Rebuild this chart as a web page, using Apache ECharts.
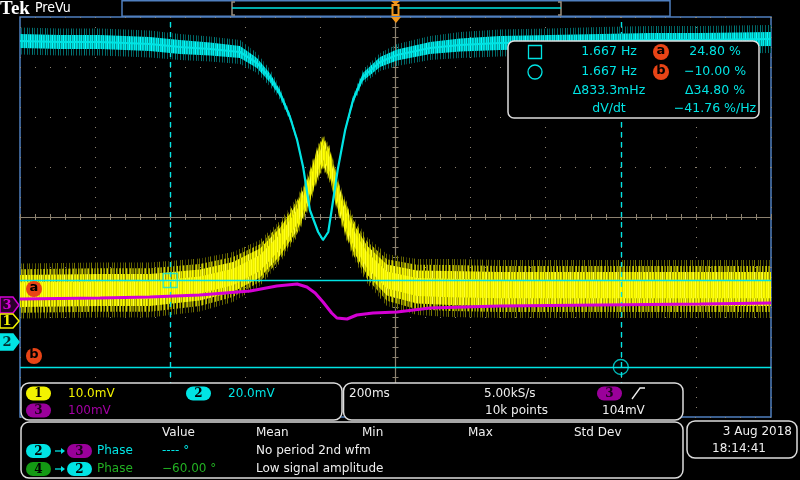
<!DOCTYPE html>
<html><head><meta charset="utf-8">
<script src="https://cdn.jsdelivr.net/npm/echarts/dist/echarts.min.js"></script>
<style>html,body{margin:0;padding:0;background:#000;}#c{width:800px;height:480px;}</style>
</head><body><div id="c"></div>
<script>
// ---- time base: ms (200 ms/div), vertical: divisions ----
// Channel 2 (cyan)
const ch2Time  = [-1000,-893,-787,-654,-574,-494,-414,-369,-334,-308,-281,-262,-246,-228,-206,-193,-179,-170,-154,-134,-113,-87,-41,4,92,172,278,411,545,678,811,1000];
const ch2Level = [3.52,3.50,3.50,3.46,3.40,3.36,3.30,3.08,2.78,2.48,2.00,1.54,1.00,0.14,-0.30,-0.46,-0.30,0.14,0.94,1.74,2.34,2.80,3.10,3.24,3.38,3.44,3.48,3.50,3.52,3.54,3.54,3.56];
const ch2Inner = [0.14,0.14,0.14,0.14,0.14,0.13,0.12,0.10,0.09,0.07,0.05,0.04,0.03,0.02,0.02,0.02,0.02,0.02,0.03,0.04,0.06,0.08,0.10,0.11,0.12,0.13,0.14,0.14,0.14,0.14,0.14,0.14];
const ch2Outer = [0.27,0.27,0.27,0.27,0.26,0.25,0.24,0.20,0.17,0.13,0.08,0.06,0.05,0.03,0.03,0.03,0.03,0.03,0.04,0.06,0.10,0.14,0.18,0.22,0.24,0.26,0.27,0.27,0.28,0.28,0.28,0.28];
// Channel 1 (yellow)
const ch1Time  = [-1000,-787,-654,-521,-433,-361,-308,-262,-236,-209,-193,-174,-156,-140,-113,-76,-23,57,145,278,545,811,1000];
const ch1Level = [-1.48,-1.46,-1.46,-1.36,-1.20,-0.92,-0.50,0.00,0.44,1.04,1.30,1.04,0.48,0.10,-0.40,-0.86,-1.26,-1.40,-1.42,-1.44,-1.44,-1.44,-1.44];
const ch1Inner = [0.32,0.32,0.32,0.31,0.30,0.29,0.28,0.27,0.27,0.27,0.27,0.27,0.27,0.27,0.28,0.29,0.31,0.33,0.34,0.34,0.34,0.34,0.34];
const ch1Outer = [0.55,0.55,0.55,0.53,0.50,0.46,0.42,0.40,0.38,0.37,0.36,0.37,0.38,0.38,0.42,0.46,0.52,0.56,0.58,0.58,0.58,0.58,0.58];
// Channel 3 (magenta)
const ch3Time  = [-1000,-787,-654,-521,-387,-316,-262,-236,-214,-193,-170,-156,-129,-103,-60,4,92,278,545,811,1000];
const ch3Level = [-1.64,-1.62,-1.60,-1.56,-1.48,-1.38,-1.34,-1.40,-1.52,-1.70,-1.92,-2.02,-2.04,-1.96,-1.92,-1.90,-1.82,-1.78,-1.76,-1.74,-1.72];
// Cursors
const cursorTimes  = [-600, 600];
const cursorLevels = [-1.27, -3.0];
// Readouts / labels
const readLeft  = ['1.667 Hz','1.667 Hz','\u0394833.3mHz','dV/dt'];
const readRight = ['24.80 %','\u221210.00 %','\u039434.80 %','\u221241.76 %/Hz'];
const chScales  = ['10.0mV','20.0mV','100mV'];
const horiz     = ['200ms','5.00kS/s','10k points','104mV'];
const measHead  = ['Value','Mean','Min','Max','Std Dev'];
const measRow1  = ['Phase','---- \u00b0','No period 2nd wfm'];
const measRow2  = ['Phase','\u221260.00 \u00b0','Low signal amplitude'];
const dateText  = ['3 Aug 2018','18:14:41'];

const YEL='#f2f200', CYA='#00e4e4', MAG='#d400d4', PUR='#9a009a', ORG='#e84416', GRN='#139a13';
const GRID='#8c8270', FRAME='#4f7fbf', FONT='"DejaVu Sans", sans-serif';

// vertical-streak textures imitating the digital phosphor look (styling only)
function stripes(cols){
  const c = document.createElement('canvas'); c.width = cols.length; c.height = 2;
  const g = c.getContext('2d');
  cols.forEach((col,i)=>{ if(col){ g.fillStyle = col; g.fillRect(i,0,1,2);} });
  return {image:c, repeat:'repeat'};
}
const Y_OUT = stripes(['','#5e5e00','','','#4a4a00','','#767600','','','','#5a5a00','','#6a6a00','','','#3a3a00','']);
const Y_MID = stripes(['#8a8a00','','#b0b000','#6a6a00','','#9a9a00','#c8c800','','#7a7a00','#a0a000','','#8a8a00','#d0d000','#5a5a00','','#9a9a00','#b8b800','','#7a7a00']);
const Y_IN  = stripes(['#f2f200','#c0c000','#f2f200','#ffff33','#9a9a00','#e0e000','#f2f200','#b0b000','#ffff00','#d8d800','#8a8a00','#f2f200','#e8e800','#c8c800','#ffff00','#a8a800','#f0f000','#d0d000','#ffff40','#b8b800','#e8e800','#9a9a00','#f8f800']);
const Y_CORE= stripes(['#ffff00','#f0f000','#ffff30','#e0e000','#ffff00','#f8f800','#d8d800','#ffff00','#f0f000','#ffff20','#e8e800']);
const C_OUT = stripes(['','#006a6a','','#004c4c','','','#007a7a','','#005a5a','','','#006666','']);
const C_IN  = stripes(['#00d0d0','#009a9a','#00e8e8','#00b8b8','#00f0f0','#008a8a','#00dcdc','#00c4c4','#00ffff','#00a8a8','#00e0e0']);

function band(name, t, lvl, half, fill, z){
  const rows = t.map((x,i)=>[x, lvl[i]-half[i], lvl[i]+half[i]]);
  return {type:'custom', name, z, silent:true, animation:false, data:rows,
    encode:{x:0, y:[1,2]},
    renderItem:function(params, api){
      if(params.dataIndex!==0) return null;
      const top = rows.map(r=>api.coord([r[0], r[2]]));
      const bot = rows.map(r=>api.coord([r[0], r[1]])).reverse();
      return {type:'polygon', shape:{points:top.concat(bot)}, style:{fill:fill}};
    }};
}
function pairs(t, v){ return t.map((x,i)=>[x, v[i]]); }
const mix = (a,b,k)=>a.map((v,i)=>v*(1-k)+b[i]*k);

const G = [];
function txt(s, x, y, color, align, font){
  G.push({type:'text', z:100, x, y, silent:true, style:{text:s, fill:color, font:font||('12px '+FONT), align:align||'left', verticalAlign:'middle'}});
}
function rect(x,y,w,h,r,fill,stroke,lw){
  G.push({type:'rect', z:100, silent:true, shape:{x,y,width:w,height:h,r:r||0}, style:{fill:fill||'none', stroke:stroke||null, lineWidth:lw||1}});
}
function badge(x, yc, fill, s, tcol){
  rect(x, yc-7, 25, 14, 7, fill);
  txt(s, x+12.5, yc+0.5, tcol||'#000', 'center', 'bold 12px "DejaVu Serif", serif');
}
function circ(cx, cy, r, fill, stroke){
  G.push({type:'circle', z:100, silent:true, shape:{cx,cy,r}, style:{fill:fill||'none', stroke:stroke||null, lineWidth:1.3}});
}
function poly(pts, fill, stroke, lw, closed){
  G.push({type: closed===false?'polyline':'polygon', z:100, silent:true, shape:{points:pts}, style:{fill:fill||'none', stroke:stroke||null, lineWidth:lw||1}});
}

// top bar
txt('Tek', 0, 9, '#fff', 'left', 'bold 19px "Liberation Serif", serif');
txt('PreVu', 35, 8, '#fff', 'left', '14px "Liberation Sans Narrow", "DejaVu Sans Condensed", sans-serif');
rect(122, 0.75, 548, 15.5, 0, '#000', FRAME, 1.5);
poly([[235,2],[232,2],[232,15],[235,15]], null, '#9a9080', 1.5, false);
poly([[558,2],[561,2],[561,15],[558,15]], null, '#9a9080', 1.5, false);
poly([[232,8],[561,8]], null, CYA, 1.5, false);
poly([[391,1],[400,1],[395.5,5]], '#f0961e');
rect(392.5, 5, 6, 10, 0, '#000', '#f0961e', 2);
poly([[391,17],[401,17],[396,23]], '#f0961e');

// left channel markers
poly([[0,297],[13,297],[19,305],[13,313],[0,313]], '#2a002a', MAG, 1.5);
txt('3', 7, 305.5, MAG, 'center', 'bold 13px "DejaVu Serif", serif');
poly([[0,314],[13,314],[19,321],[13,328],[0,328]], '#000', YEL, 1.5);
txt('1', 7, 321.5, YEL, 'center', 'bold 13px "DejaVu Serif", serif');
poly([[0,334],[13,334],[19,342],[13,350],[0,350]], CYA, CYA, 1.5);
txt('2', 7, 342.5, '#003030', 'center', 'bold 13px "DejaVu Serif", serif');
circ(34, 289, 8, ORG); txt('a', 34, 288, '#000', 'center', 'bold 13px '+FONT);
circ(34, 356, 8, ORG); txt('b', 34, 355, '#000', 'center', 'bold 13px '+FONT);

// cursor readout box
rect(508, 41, 251, 77, 6, '#000', '#ddd', 1.5);
rect(528.5, 45.5, 13, 13, 0, null, CYA, 1.3);
circ(535, 72, 7, null, CYA);
const rowY = [52, 72, 91, 109];
readLeft.forEach((s,i)=>txt(s, 609, rowY[i], CYA, 'center', '12.5px '+FONT));
readRight.forEach((s,i)=>txt(s, 715, rowY[i], CYA, 'center', '12.5px '+FONT));
circ(661, 52, 8, ORG); txt('a', 661, 51, '#000', 'center', 'bold 13px '+FONT);
circ(661, 72, 8, ORG); txt('b', 661, 71, '#000', 'center', 'bold 13px '+FONT);

// channel panel
rect(21, 383, 321, 37, 8, '#000', '#ddd', 1.5);
badge(26, 393.5, YEL, '1'); txt(chScales[0], 68, 393.5, YEL);
badge(186, 393.5, CYA, '2'); txt(chScales[1], 228, 393.5, CYA);
badge(26, 410.5, PUR, '3', '#1a001a'); txt(chScales[2], 68, 410.5, '#a400a4');
// horizontal panel
rect(343.5, 383, 339.5, 37, 8, '#000', '#ddd', 1.5);
txt(horiz[0], 349, 393.5, '#eee');
txt(horiz[1], 484, 393.5, '#eee');
txt(horiz[2], 485, 410.5, '#eee');
badge(597, 393.5, PUR, '3', '#1a001a');
poly([[632,399],[640,388],[645,388]], null, '#eee', 1.3, false);
txt(horiz[3], 602, 410.5, '#eee');
// measurement panel
rect(21, 422, 662, 56, 8, '#000', '#ddd', 1.5);
const headX = [162, 256, 362, 468, 574];
measHead.forEach((s,i)=>txt(s, headX[i], 433, '#eee'));
function arrow(y){ poly([[55,y],[63,y]], null, CYA, 1.3, false); poly([[61,y-3],[65,y],[61,y+3]], CYA); }
badge(26, 451, CYA, '2'); arrow(451); badge(67, 451, PUR, '3', '#1a001a');
txt(measRow1[0], 97, 451, CYA); txt(measRow1[1], 162, 451, CYA); txt(measRow1[2], 256, 451, '#eee');
badge(26, 469, GRN, '4'); arrow(469); badge(67, 469, CYA, '2');
txt(measRow2[0], 97, 469, '#22b022'); txt(measRow2[1], 162, 469, '#22b022'); txt(measRow2[2], 256, 469, '#eee');
// date panel
rect(687, 421, 110, 37, 8, '#000', '#ddd', 1.5);
txt(dateText[0], 792, 431.5, '#eee', 'right');
txt(dateText[1], 712, 448.5, '#eee');

const tickStyle = {color:GRID, width:1};
const chart = echarts.init(document.getElementById('c'), null, {renderer:'canvas'});
chart.setOption({
  backgroundColor:'#000',
  animation:false,
  grid:{left:20, top:17, width:751, height:400, show:true, backgroundColor:'#000', borderColor:FRAME, borderWidth:1.5},
  xAxis:[
    {type:'value', min:-1000, max:1000, interval:200, position:'bottom',
     axisLabel:{show:false},
     axisLine:{show:true, onZero:true, onZeroAxisIndex:0, lineStyle:{color:GRID, width:1.2}},
     axisTick:{show:true, length:3, lineStyle:tickStyle},
     minorTick:{show:true, splitNumber:5, length:3, lineStyle:tickStyle},
     splitLine:{show:true, lineStyle:{color:GRID, type:[1,9], width:1}}},
    {type:'value', min:-1000, max:1000, interval:200, position:'top',
     axisLabel:{show:false},
     axisLine:{show:false, onZero:true, onZeroAxisIndex:0},
     axisTick:{show:true, length:3, lineStyle:tickStyle},
     minorTick:{show:true, splitNumber:5, length:3, lineStyle:tickStyle},
     splitLine:{show:false}}
  ],
  yAxis:[
    {type:'value', min:-4, max:4, interval:1, position:'left',
     axisLabel:{show:false},
     axisLine:{show:true, onZero:true, onZeroAxisIndex:0, lineStyle:{color:GRID, width:1.2}},
     axisTick:{show:true, length:3, lineStyle:tickStyle},
     minorTick:{show:true, splitNumber:5, length:3, lineStyle:tickStyle},
     splitLine:{show:true, lineStyle:{color:GRID, type:[1,14], width:1}}},
    {type:'value', min:-4, max:4, interval:1, position:'right',
     axisLabel:{show:false},
     axisLine:{show:false, onZero:true, onZeroAxisIndex:0},
     axisTick:{show:true, length:3, lineStyle:tickStyle},
     minorTick:{show:true, splitNumber:5, length:3, lineStyle:tickStyle},
     splitLine:{show:false}}
  ],
  series:[
    band('ch1 outer', ch1Time, ch1Level, ch1Outer, Y_OUT, 2),
    band('ch1 mid',   ch1Time, ch1Level, mix(ch1Inner, ch1Outer, 0.5), Y_MID, 3),
    band('ch1 inner', ch1Time, ch1Level, ch1Inner, Y_IN, 3),
    band('ch1 core',  ch1Time, ch1Level, mix(ch1Inner, ch1Inner.map(()=>0), 0.45), Y_CORE, 3),
    band('ch2 outer', ch2Time, ch2Level, ch2Outer, C_OUT, 4),
    band('ch2 inner', ch2Time, ch2Level, ch2Inner, C_IN, 5),
    {type:'line', name:'ch2', z:6, data:pairs(ch2Time, ch2Level), showSymbol:false, silent:true,
     lineStyle:{color:CYA, width:2.2}},
    {type:'line', name:'ch3', z:7, data:pairs(ch3Time, ch3Level), showSymbol:false, silent:true,
     lineStyle:{color:MAG, width:3}},
    {type:'scatter', name:'cursors', z:9, silent:true,
     data:[{value:[cursorTimes[0], cursorLevels[0]], symbol:'rect', symbolSize:14},
           {value:[cursorTimes[1], cursorLevels[1]], symbol:'circle', symbolSize:15}],
     itemStyle:{color:'rgba(0,0,0,0)', borderColor:CYA, borderWidth:1.3},
     markLine:{silent:true, symbol:'none', label:{show:false}, animation:false,
       lineStyle:{color:CYA, width:1.4},
       data:[{xAxis:cursorTimes[0], lineStyle:{type:[5,5]}},
             {xAxis:cursorTimes[1], lineStyle:{type:[5,5]}},
             {yAxis:cursorLevels[0], lineStyle:{type:'solid'}},
             {yAxis:cursorLevels[1], lineStyle:{type:'solid'}}]}}
  ],
  graphic:G
});
</script></body></html>
